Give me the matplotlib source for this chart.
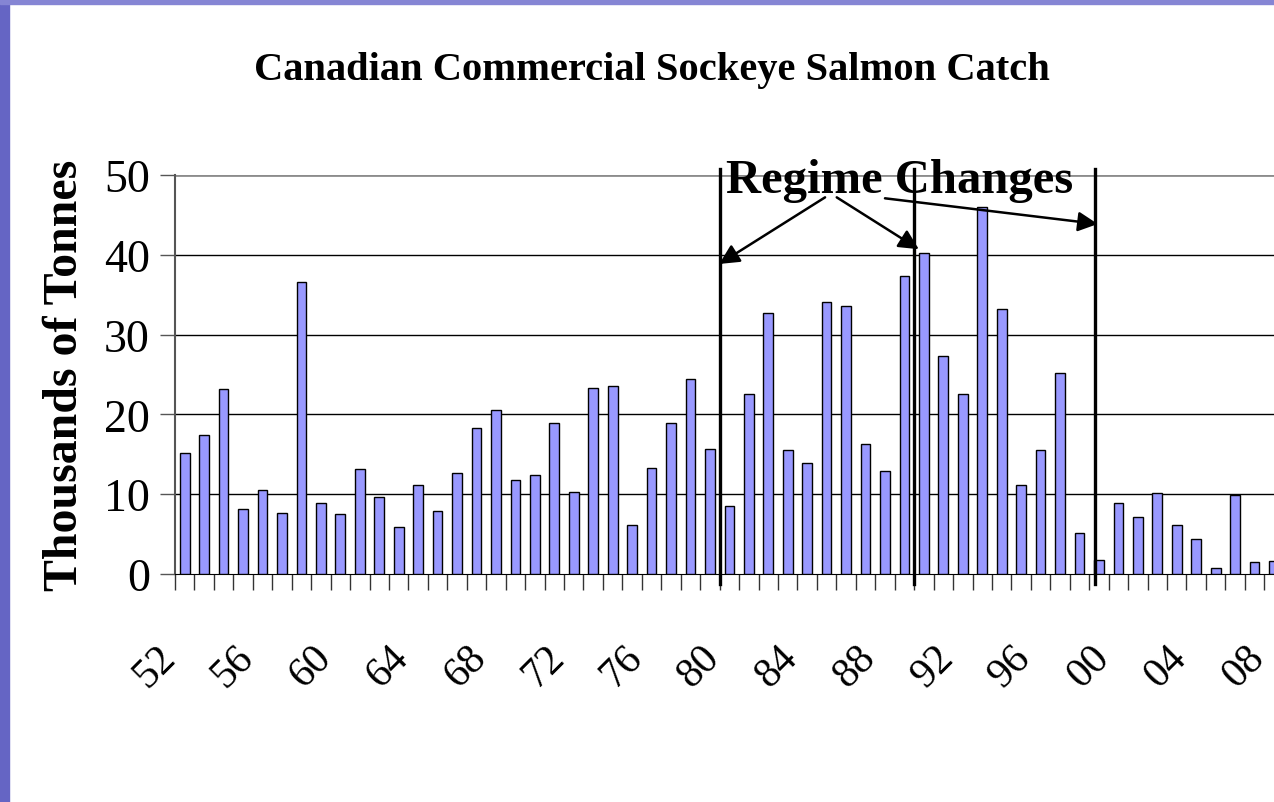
import numpy as np
import matplotlib
matplotlib.use("Agg")
import matplotlib.pyplot as plt
from matplotlib.patches import Rectangle
from matplotlib.transforms import ScaledTranslation

# catch data (thousands of tonnes), 1952-2008
years = np.arange(1952, 2009)
catch = [15.2, 17.4, 23.2, 8.1, 10.5, 7.7, 36.6, 8.9, 7.5, 13.1,
         9.7, 5.9, 11.2, 7.9, 12.6, 18.3, 20.5, 11.8, 12.4, 18.9,
         10.3, 23.3, 23.6, 6.1, 13.3, 18.9, 24.4, 15.7, 8.5, 22.6,
         32.7, 15.6, 13.9, 34.1, 33.6, 16.3, 12.9, 37.4, 40.2, 27.3,
         22.6, 46.0, 33.2, 11.1, 15.6, 25.2, 5.1, 1.8, 8.9, 7.2,
         10.2, 6.2, 4.4, 0.8, 9.9, 1.5, 1.6]
label_years = np.arange(1952, 2009, 4)
year_labels = ["%02d" % (y % 100) for y in label_years]
regime_years = [1979.5, 1989.5, 1998.8]

serif = ["Liberation Serif", "DejaVu Serif"]
plt.rcParams["font.family"] = serif

fig = plt.figure(figsize=(12.74, 8.03), dpi=100)
fig.patch.set_facecolor("white")
# slide border strips
fig.patches.append(Rectangle((0, 0), 9 / 1274, 1, transform=fig.transFigure,
                             color="#6565c4", zorder=0))
fig.patches.append(Rectangle((0, 1 - 5 / 803), 1, 5 / 803, transform=fig.transFigure,
                             color="#8585d4", zorder=0))

ax = fig.add_axes([175 / 1274, 228 / 803, 1 - 175 / 1274, 399 / 803])
ax.bar(years, catch, width=0.5, color="#9999ff", edgecolor="black", linewidth=1.0, zorder=3)

ax.set_xlim(1951.5, 2007.86)
ax.set_ylim(0, 50)
ax.set_yticks([0, 10, 20, 30, 40, 50])
for g in [10, 20, 30, 40]:
    ax.axhline(g, color="black", linewidth=1.0, zorder=0)
ax.axhline(50, color="#8c8c8c", linewidth=2.0, zorder=0)
for s in ["top", "right"]:
    ax.spines[s].set_visible(False)
ax.spines["left"].set_color("#555555")
ax.spines["left"].set_linewidth(1.5)
ax.spines["bottom"].set_color("black")
ax.tick_params(axis="y", length=11, width=1, color="#555555", labelsize=33, pad=7)

# category boundary ticks and rotated year labels
ax.set_xticks(np.arange(1951.5, 2008.5, 1))
ax.tick_params(axis="x", which="major", length=11.5, width=1, color="#333333", labelbottom=False)
ax.set_xticks(label_years, year_labels, minor=True)
ax.tick_params(axis="x", which="minor", length=0, pad=66, labelsize=30)
for lbl in ax.get_xticklabels(minor=True):
    lbl.set_rotation(45)
    lbl.set_ha("center")
    lbl.set_va("center")
    lbl.set_rotation_mode("anchor")
    lbl.set_transform(lbl.get_transform() + ScaledTranslation(-0.30, 0, fig.dpi_scale_trans))

ax.set_ylabel("Thousands of Tonnes", fontsize=34.5, fontweight="bold", labelpad=12)

# regime change markers
for x in regime_years:
    ax.plot([x, x], [-1.3, 50.7], color="black", linewidth=2.4, clip_on=False, zorder=5)

ax.text(1979.81, 47.87, "Regime Changes", fontsize=35, fontweight="bold",
        ha="left", va="baseline", zorder=6)
arrow = dict(arrowstyle="-|>", color="black", lw=1.8, mutation_scale=30,
             shrinkA=0, shrinkB=0)
ax.annotate("", xy=(1979.48, 38.85), xytext=(1984.92, 47.2), arrowprops=arrow, zorder=6)
ax.annotate("", xy=(1989.74, 40.7), xytext=(1985.52, 47.2), arrowprops=arrow, zorder=6)
ax.annotate("", xy=(1998.94, 43.86), xytext=(1988.0, 47.08), arrowprops=arrow, zorder=6)

fig.text(652 / 1274, 1 - 80 / 803, "Canadian Commercial Sockeye Salmon Catch",
         fontsize=29.2, fontweight="bold", ha="center", va="baseline")

fig.savefig("out.png", dpi=100)
